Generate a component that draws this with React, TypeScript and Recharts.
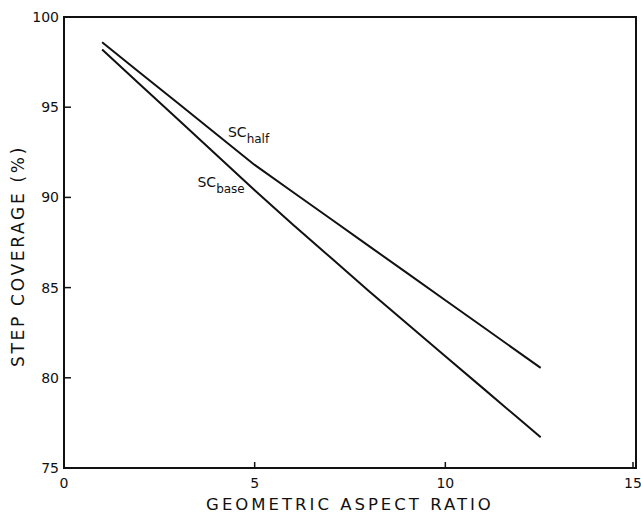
import React from "react";
import {
  LineChart,
  Line,
  XAxis,
  YAxis,
  ReferenceArea,
  ReferenceDot,
} from "recharts";

// aspect ratio values where the curves were read
const aspectRatio = [1, 2, 3, 4, 5, 6, 7, 8, 9, 10, 11, 12, 12.5];
// step coverage (%) at half height of the step
const scHalf = [98.6, 96.9, 95.2, 93.5, 91.8, 90.3, 88.8, 87.3, 85.8, 84.3, 82.8, 81.3, 80.55];
// step coverage (%) at the base of the step
const scBase = [98.2, 96.25, 94.3, 92.35, 90.4, 88.5, 86.65, 84.8, 83.0, 81.2, 79.4, 77.6, 76.7];

const xTicks = [0, 5, 10, 15];
const yTicks = [75, 80, 85, 90, 95, 100];

const data = aspectRatio.map((ar, i) => ({ ar, half: scHalf[i], base: scBase[i] }));

const font = "'DejaVu Sans', sans-serif";
const ink = "#111";

const XTick = ({ x, y, payload }: any) => (
  <g>
    <line x1={x} y1={y} x2={x} y2={y - 6} stroke={ink} strokeWidth={1.5} />
    <text
      x={x}
      y={y + 15}
      textAnchor="middle"
      dominantBaseline="central"
      fontFamily={font}
      fontSize={14}
      fill={ink}
    >
      {payload.value}
    </text>
  </g>
);

const YTick = ({ x, y, payload }: any) => (
  <g>
    <line x1={x} y1={y} x2={x + 7} y2={y} stroke={ink} strokeWidth={1.5} />
    <text
      x={x - 5}
      y={y}
      textAnchor="end"
      dominantBaseline="central"
      fontFamily={font}
      fontSize={14}
      fill={ink}
    >
      {payload.value}
    </text>
  </g>
);

const curveLabel = (main: string, sub: string) => (props: any) => {
  const { viewBox } = props;
  const x = viewBox.x + (viewBox.width || 0) / 2;
  const y = viewBox.y + (viewBox.height || 0) / 2;
  return (
    <text x={x} y={y} fontFamily={font} fontSize={14} fill={ink}>
      {main}
      <tspan fontSize={12} dy={6}>
        {sub}
      </tspan>
    </text>
  );
};

export default function App() {
  return (
    <div style={{ position: "absolute", left: 0, top: 0, background: "#fff" }}>
      <LineChart
        width={641}
        height={516}
        data={data}
        margin={{ top: 17, right: 5, bottom: 8, left: 4 }}
      >
        <XAxis
          dataKey="ar"
          type="number"
          domain={[0, 15]}
          ticks={xTicks}
          tick={<XTick />}
          tickLine={false}
          tickSize={0}
          tickMargin={0}
          height={40}
          axisLine={{ stroke: ink, strokeWidth: 2 }}
          label={{
            content: (p: any) => (
              <text
                x={p.viewBox.x + p.viewBox.width / 2}
                y={504}
                textAnchor="middle"
                dominantBaseline="central"
                fontFamily={font}
                fontSize={16.5}
                letterSpacing={3}
                fill={ink}
              >
                GEOMETRIC ASPECT RATIO
              </text>
            ),
          }}
        />
        <YAxis
          type="number"
          domain={[75, 100]}
          ticks={yTicks}
          tick={<YTick />}
          tickLine={false}
          tickSize={0}
          tickMargin={0}
          width={60}
          axisLine={{ stroke: ink, strokeWidth: 2 }}
          label={{
            content: () => (
              <text
                x={18}
                y={256}
                transform="rotate(-90 18 256)"
                textAnchor="middle"
                dominantBaseline="central"
                fontFamily={font}
                fontSize={17}
                letterSpacing={2.7}
                fill={ink}
              >
                STEP COVERAGE (%)
              </text>
            ),
          }}
        />
        <ReferenceArea x1={0} x2={15} y1={75} y2={100} fill="none" stroke={ink} strokeWidth={2} />
        <Line
          dataKey="half"
          type="linear"
          stroke={ink}
          strokeWidth={2}
          dot={false}
          isAnimationActive={false}
        />
        <Line
          dataKey="base"
          type="linear"
          stroke={ink}
          strokeWidth={2}
          dot={false}
          isAnimationActive={false}
        />
        <ReferenceDot
          x={4.3}
          y={93.35}
          r={0}
          fill="none"
          stroke="none"
          label={{ content: curveLabel("SC", "half") }}
        />
        <ReferenceDot
          x={3.5}
          y={90.55}
          r={0}
          fill="none"
          stroke="none"
          label={{ content: curveLabel("SC", "base") }}
        />
      </LineChart>
    </div>
  );
}
